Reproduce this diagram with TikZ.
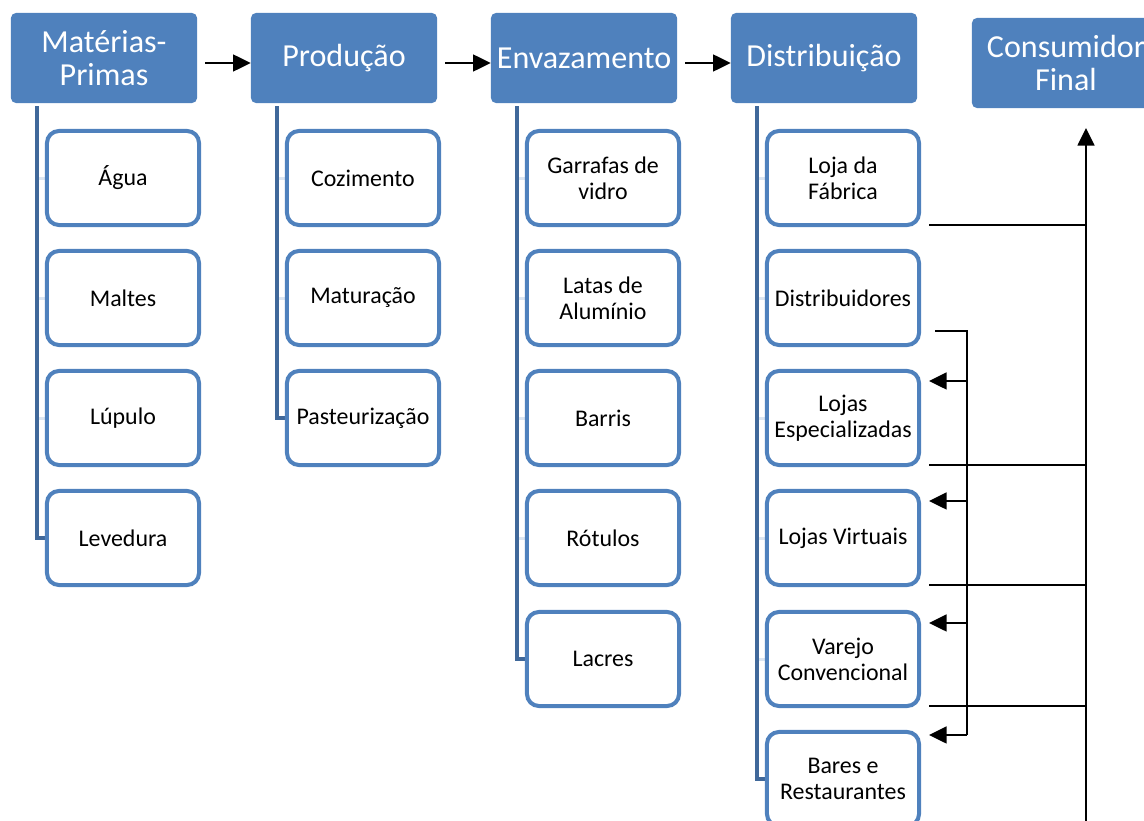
\documentclass[tikz,border=0pt]{standalone}
\usepackage{fontspec}
\setmainfont{Carlito}
\usepackage{xcolor}
\usetikzlibrary{calc,arrows.meta,backgrounds}
\definecolor{headblue}{RGB}{79,129,189}
\definecolor{barblue}{RGB}{64,104,154}
\definecolor{stubblue}{RGB}{220,230,242}
\tikzset{
  head/.style={fill=headblue, text=white, rounded corners=3.5pt, align=center,
    minimum width=4.65cm, minimum height=2.25cm, inner sep=1pt,
    font=\fontsize{22.8}{24}\selectfont},
  item/.style={draw=headblue, fill=white, line width=0.1cm, rounded corners=8.5pt,
    align=center, minimum width=3.8cm, minimum height=2.35cm, inner sep=1pt,
    font=\fontsize{17}{18.5}\selectfont},
  bar/.style={draw=barblue, line width=0.1cm},
  stub/.style={draw=stubblue, line width=0.075cm},
  link/.style={draw=black, line width=1.5pt},
  tip/.style={-{Triangle[length=0.44cm, width=0.42cm]}}
}

\begin{document}
\begin{tikzpicture}[x=0.025cm, y=-0.025cm]
    \clip (0, 0) rectangle (1144, 821);
    % stages
    \node[head] (mat) at (104, 58) {Matérias-\\Primas};
    \node[head] (prod) at (344, 58) {Produção};
    \node[head] (env) at (584, 58) {Envazamento};
    \node[head] (dist) at (824, 58) {Distribuição};
    \node[head, minimum width=4.7cm] (cons) at (1066, 63) {Consumidor\\Final};
    % items
    \node[item] (agua) at (123, 178) {Água};
    \node[item] (maltes) at (123, 298) {Maltes};
    \node[item] (lupulo) at (123, 418) {Lúpulo};
    \node[item] (levedura) at (123, 538) {Levedura};
    \node[item] (cozimento) at (363, 178) {Cozimento};
    \node[item] (maturacao) at (363, 298) {Maturação};
    \node[item] (pasteur) at (363, 418) {Pasteurização};
    \node[item] (garrafas) at (603, 178) {Garrafas de\\vidro};
    \node[item] (latas) at (603, 298) {Latas de\\Alumínio};
    \node[item] (barris) at (603, 418) {Barris};
    \node[item] (rotulos) at (603, 538) {Rótulos};
    \node[item] (lacres) at (603, 659) {Lacres};
    \node[item] (lojafab) at (843, 178) {Loja da\\Fábrica};
    \node[item] (distrib) at (843, 298) {Distribuidores};
    \node[item] (lojesp) at (843, 418) {Lojas\\Especializadas};
    \node[item] (lojvirt) at (843, 538) {Lojas Virtuais};
    \node[item] (varejo) at (843, 659) {Varejo\\Convencional};
    \node[item] (bares) at (843, 779) {Bares e\\Restaurantes};
    % bars behind the items
    \begin{scope}[on background layer]
        \foreach \n in {agua, maltes, lupulo, levedura, cozimento, maturacao, pasteur,
                        garrafas, latas, barris, rotulos, lacres,
                        lojafab, distrib, lojesp, lojvirt, varejo, bares}
            \draw[stub] ($(\n.west) + (-8, 0)$) -- ++(16, 0);
        \draw[bar] ($(mat.south west) + (26, 3)$) |- (levedura.west);
        \draw[bar] ($(prod.south west) + (26, 3)$) |- (pasteur.west);
        \draw[bar] ($(env.south west) + (26, 3)$) |- (lacres.west);
        \draw[bar] ($(dist.south west) + (26, 3)$) |- (bares.west);
    \end{scope}
    % chain
    \draw[link, tip] ($(mat.east) + (8, 5)$) -- ($(prod.west) + (0, 5)$);
    \draw[link, tip] ($(prod.east) + (8, 5)$) -- ($(env.west) + (0, 5)$);
    \draw[link, tip] ($(env.east) + (8, 5)$) -- ($(dist.west) + (0, 5)$);
    % to the consumer
    \coordinate (base) at (1086, 821);
    \coordinate (top) at (1086, 128);
    \draw[link, tip] (base) -- (top);
    \foreach \n in {lojafab, lojesp, lojvirt, varejo}
        \draw[link] ($(\n.south east) + (8, -2)$) -- ($(\n.south east -| base) + (0, -2)$);
    % distributors fork
    \coordinate (fork) at ($(distrib.south east) + (46, -16)$);
    \draw[link] ($(distrib.south east) + (14, -16)$) -| ($(bares.north east -| fork) + (0, 5)$);
    \foreach \n/\d in {lojesp/12, lojvirt/12, varejo/13, bares/5}
        \draw[link, tip] ($(\n.north east -| fork) + (0, \d)$) -- ($(\n.north east) + (8, \d)$);
\end{tikzpicture}
\end{document}
